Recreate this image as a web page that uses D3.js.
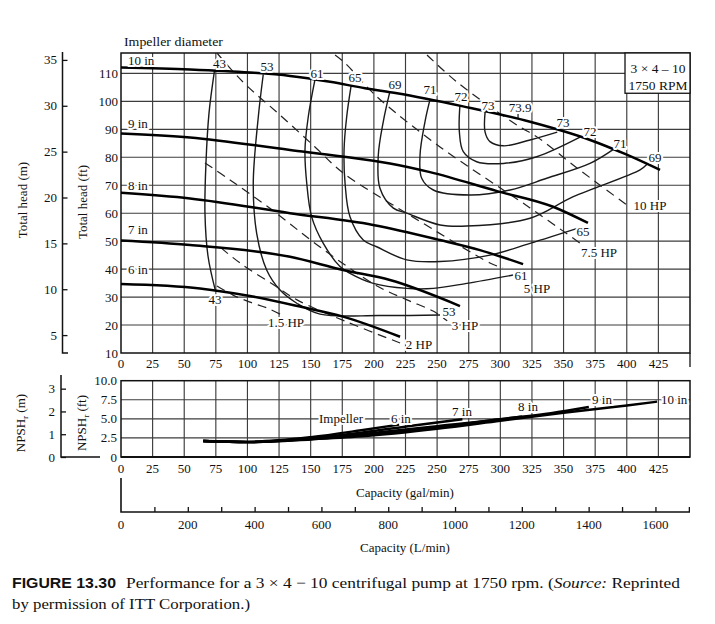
<!DOCTYPE html>
<html><head><meta charset="utf-8">
<script src="https://cdn.jsdelivr.net/npm/d3@7"></script>
<style>
body{margin:0;background:#fff}
svg{display:block}
text{font-family:"Liberation Serif","Times New Roman",serif;fill:#111}
text.sans{font-family:"Liberation Sans Narrow","Liberation Sans",Arial,sans-serif}
.halo{paint-order:stroke;stroke:#fff;stroke-width:4px;stroke-linejoin:round}
</style></head><body>
<svg id="c" width="715" height="624"></svg>
<script>
// ---------- tick labels ----------
const capacityTicks = [0,25,50,75,100,125,150,175,200,225,250,275,300,325,350,375,400,425];
const headFtTicks = [10,20,30,40,50,60,70,80,90,100,110];
const headMTicks = [5,10,15,20,25,30,35];
const npshFtTicks = [0,2.5,5,7.5,10];
const npshFtLabels = ["0","2.5","5.0","7.5","10.0"];
const npshMTicks = [0,1,2,3];
const litreTicks = [0,200,400,600,800,1000,1200,1400,1600];
const litreMinor = [100,200,300,400,500,600,700,800,900,1000,1100,1200,1300,1400,1500,1600,1700];

// ---------- head curves (gpm, ft) ----------
const impellerNames = ["10 in","9 in","8 in","7 in","6 in"];
const head10 = [[0,112.1],[54.6,111.4],[102,110.3],[133.7,109.1],[165.3,107.0],[193,104.7],[218.3,102.9],[270.5,98.2],[323.5,92.7],[371,86.2],[398.6,81.2],[426.3,75.5]];
const head9  = [[0,88.5],[54.6,87.1],[133.7,82.6],[173.2,80.4],[212.7,77.8],[244.4,74.7],[297.4,67.9],[341.7,62.3],[369.3,56.5]];
const head8  = [[0,67.3],[54.6,65.3],[133.7,60.0],[199.3,55.8],[252.3,50.4],[283.9,46.8],[318,41.8]];
const head7  = [[0,50.2],[54.6,48.6],[133.7,44.4],[175.6,39.7],[212.7,36.1],[268.1,26.8]];
const head6  = [[0,34.7],[62.5,33.1],[102,30.4],[141.6,26.6],[175.6,23.0],[220.7,15.8]];
const impellerLabelHeads = [114.8,92.2,70,54.2,40];

// ---------- efficiency contours (gpm, ft) ----------
const eff43 = [[74,111.2],[69.6,95.8],[67.2,78.0],[66.4,60.1],[68.8,44.7],[74.5,32.6]];
const eff53 = [[112.5,109.6],[108.6,94.5],[104.6,70.7],[107.3,52.8],[115.2,39.7],[125.8,32.5],[139,27.8],[157.4,23.9],[204.8,23.4],[252.3,23.6]];
const eff61 = [[153.4,107.8],[148.1,94.5],[145.5,82.6],[146.9,70.7],[150.8,58.7],[160,49.2],[173.2,40.9],[181.1,38.5],[199.5,34.9],[226,33.1],[247,33.1],[273.4,34.9],[310.3,37.9]];
const eff65 = [[182,105.6],[178.5,94.5],[176.4,82.6],[177.2,70.7],[181.1,58.7],[191.6,50.4],[202.2,48.0],[226,43.3],[252.3,42.7],[291.8,45.0],[323.5,49.2],[364,55]];
const eff69 = [[212.5,103.2],[207.4,92.7],[203.5,80.8],[204.8,68.9],[215.4,61.8],[226,60.0],[252.3,55.8],[273.4,55.4],[323.5,58.2],[357.7,65.9],[410.5,75.5],[416,77.5]];
const eff71 = [[244.4,100.7],[240.4,92.7],[236.5,80.8],[237.8,72.5],[247,68.3],[276,66.5],[307.7,68.3],[336.7,72.5],[370.9,77.8],[390,83]];
const eff72 = [[268,98.4],[267.6,89.1],[270.7,82.0],[281.3,78.4],[302.4,77.8],[328.8,80.2],[363,87.2]];
const eff73 = [[288,96.4],[287.9,89.1],[291.8,85.6],[302.4,84.1],[323.5,86.2],[345,89.0]];
const bestPoint = [314, 93.7]; // 73.9 %
const effLabels = [["43",77.9,113.7],["53",115.5,112.6],["61",155,110],["65",185.1,108.4],["69",216.7,105.9],["71",244.4,104.1],["72",268.9,101.6],["73",290.3,98.7],["73.9",315.6,98.0],["73",349.6,92.3],["72",370.9,89.4],["71",394.6,85.1],["69",422.3,80.1],["65",365.4,53.6],["61",316.4,37.9],["53",259.4,24.7],["43",74.3,29.0]];

// ---------- power lines (gpm, ft) ----------
const hp10 = [[242,116.6],[265.7,106.9],[313.2,91.5],[329,87.3],[360.6,76.2],[400.2,62.9]];
const hp75 = [[169.3,116.6],[177.2,113.7],[196.9,104.1],[208.8,99.1],[252.3,83.7],[323.5,61.9],[363,49.3]];
const hp5  = [[75.9,117.3],[96.5,106.9],[125.8,95.1],[153.4,83.7],[175.6,74.4],[212.7,63.6],[230.9,58.6],[291.8,42.2],[302.1,40.4]];
const hp3  = [[66.4,78.0],[86.2,71.9],[119.4,61.2],[157.4,47.9],[202.5,34.0],[226.2,29.0],[246.8,25.0],[258,21.5]];
const hp2  = [[79.1,47.6],[94.1,42.2],[123.4,33.6],[139.2,29.0],[178.7,21.1],[220.7,13.6]];
const hp15 = [[75.9,34.0],[88.6,30.7],[102,28.2],[115.5,26.1],[125.8,23.9]];
const hpLabels = [["10 HP",418.4,62.6],["7.5 HP",378,46.1],["5 HP",329,33.2],["3 HP",272.1,20],["2 HP",235.7,12.9],["1.5 HP",130.5,21.1]];

// ---------- NPSHr curves (gpm, ft) ----------
const npsh10 = [[65,2.1],[100,1.95],[150,2.3],[190,2.7],[250,3.7],[300,4.75],[350,5.8],[400,6.75],[424,7.25]];
const npsh9  = [[65,2.1],[100,1.95],[150,2.35],[190,2.85],[250,3.9],[300,4.95],[340,5.75],[370,6.55]];
const npsh8  = [[65,2.1],[100,1.95],[150,2.4],[190,3.0],[250,4.05],[300,4.95],[317,5.3]];
const npsh7  = [[65,2.1],[100,1.95],[150,2.5],[190,3.2],[230,4.1],[270,4.95]];
const npsh6  = [[65,2.1],[100,2.0],[150,2.6],[190,3.5],[220,4.25]];
const npshLabels = [["Impeller",174,5.0],["6 in",221.4,5.0],["7 in",269.7,6.0],["8 in",321.9,6.6],["9 in",380.4,7.5],["10 in",437.4,7.5]];

// ---------- scales ----------
const svg = d3.select("#c");
const x  = d3.scaleLinear().domain([0,450]).range([121,690]);
const xL = d3.scaleLinear().domain([0,450*3.78541]).range([121,690]);
const yH = d3.scaleLinear().domain([10,117.3]).range([353,53]);
const yHm = d3.scaleLinear().domain([10/3.2808,117.3/3.2808]).range([353,53]);
const yN = d3.scaleLinear().domain([0,10]).range([457,380.7]);
const yNm = d3.scaleLinear().domain([0,3.6]).range([457,375]);

const gridC = "#3d3d3d";

// ---------- upper grid ----------
const g = svg.append("g");
g.selectAll(".vg").data(d3.range(25,450,25)).join("line")
  .attr("x1",d=>x(d)).attr("x2",d=>x(d)).attr("y1",yH(10)).attr("y2",yH(117.3))
  .attr("stroke",gridC).attr("stroke-width",1.15);
g.selectAll(".hg").data(d3.range(20,111,10)).join("line")
  .attr("x1",x(0)).attr("x2",x(450)).attr("y1",d=>yH(d)).attr("y2",d=>yH(d))
  .attr("stroke",gridC).attr("stroke-width",1.15);
g.append("rect").attr("x",x(0)).attr("y",yH(117.3)).attr("width",x(450)-x(0)).attr("height",yH(10)-yH(117.3))
  .attr("fill","none").attr("stroke","#111").attr("stroke-width",1.5);
g.append("line").attr("x1",x(450)).attr("x2",x(450)).attr("y1",yH(10)).attr("y2",367).attr("stroke","#111").attr("stroke-width",1.3);

// ---------- lower grid ----------
g.selectAll(".vg2").data(d3.range(25,450,25)).join("line")
  .attr("x1",d=>x(d)).attr("x2",d=>x(d)).attr("y1",yN(0)).attr("y2",yN(10))
  .attr("stroke",gridC).attr("stroke-width",1.15);
g.selectAll(".hg2").data([2.5,5,7.5]).join("line")
  .attr("x1",x(0)).attr("x2",x(450)).attr("y1",d=>yN(d)).attr("y2",d=>yN(d))
  .attr("stroke",gridC).attr("stroke-width",1.15);
g.append("rect").attr("x",x(0)).attr("y",yN(10)).attr("width",x(450)-x(0)).attr("height",yN(0)-yN(10))
  .attr("fill","none").attr("stroke","#111").attr("stroke-width",1.5);
g.append("line").attr("x1",x(0)).attr("x2",x(450)).attr("y1",yN(0)).attr("y2",yN(0)).attr("stroke","#111").attr("stroke-width",2);

// ---------- lines ----------
const smooth = d3.line().x(d=>x(d[0])).y(d=>yH(d[1])).curve(d3.curveCatmullRom.alpha(0.5));
const mono = d3.line().x(d=>x(d[0])).y(d=>yH(d[1])).curve(d3.curveMonotoneX);
const monoN = d3.line().x(d=>x(d[0])).y(d=>yN(d[1])).curve(d3.curveMonotoneX);

const effCurves = [eff43,eff53,eff61,eff65,eff69,eff71,eff72,eff73];
svg.append("g").selectAll("path").data(effCurves).join("path")
  .attr("d",smooth).attr("fill","none").attr("stroke","#1a1a1a").attr("stroke-width",1.4);
svg.append("line").attr("x1",x(bestPoint[0])).attr("x2",x(bestPoint[0]))
  .attr("y1",yH(bestPoint[1])).attr("y2",yH(bestPoint[1]+2.2)).attr("stroke","#111").attr("stroke-width",1.2);

const hpCurves = [hp10,hp75,hp5,hp3,hp2,hp15];
svg.append("g").selectAll("path").data(hpCurves).join("path")
  .attr("d",smooth).attr("fill","none").attr("stroke","#222").attr("stroke-width",1.2)
  .attr("stroke-dasharray","9,6");

const headCurves = [head10,head9,head8,head7,head6];
svg.append("g").selectAll("path").data(headCurves).join("path")
  .attr("d",mono).attr("fill","none").attr("stroke","#000").attr("stroke-width",2.5);

const npshCurves = [npsh10,npsh9,npsh8,npsh7,npsh6];
svg.append("g").selectAll("path").data(npshCurves).join("path")
  .attr("d",monoN).attr("fill","none").attr("stroke","#000").attr("stroke-width",2.4);

// ---------- box ----------
svg.append("rect").attr("x",x(398.6)).attr("y",yH(117.3)).attr("width",x(450)-x(398.6)).attr("height",yH(102.9)-yH(117.3))
  .attr("fill","#fff").attr("stroke","#111").attr("stroke-width",1.3);
svg.append("text").attr("x",x(424.7)).attr("y",yH(111.8)).attr("dy","0.35em").attr("text-anchor","middle")
  .attr("font-size",13.5).text("3 × 4 – 10");
svg.append("text").attr("x",x(424.7)).attr("y",yH(105.8)).attr("dy","0.35em").attr("text-anchor","middle")
  .attr("font-size",13.5).text("1750 RPM");

// ---------- labels ----------
const lab = svg.append("g").attr("font-size",13);
lab.selectAll(".el").data(effLabels).join("text").attr("class","halo")
  .attr("x",d=>x(d[1])).attr("y",d=>yH(d[2])).attr("dy","0.35em").attr("text-anchor","middle").text(d=>d[0]);
lab.selectAll(".hl").data(hpLabels).join("text").attr("class","halo")
  .attr("x",d=>x(d[1])).attr("y",d=>yH(d[2])).attr("dy","0.35em").attr("text-anchor","middle").text(d=>d[0]);
lab.selectAll(".il").data(impellerNames).join("text").attr("class","halo")
  .attr("x",x(5.5)).attr("y",(d,i)=>yH(impellerLabelHeads[i])).attr("dy","0.35em").text(d=>d);
lab.selectAll(".nl").data(npshLabels).join("text").attr("class","halo")
  .attr("x",d=>x(d[1])).attr("y",d=>yN(d[2])).attr("dy","0.35em").attr("text-anchor","middle").text(d=>d[0]);

svg.append("text").attr("x",124).attr("y",46).attr("font-size",13).attr("textLength",99).attr("lengthAdjust","spacingAndGlyphs").text("Impeller diameter");

// ---------- axes ----------
const tick = svg.append("g").attr("font-size",13);
tick.selectAll(".hf").data(headFtTicks).join("text").attr("x",118).attr("y",d=>yH(d)).attr("dy","0.35em")
  .attr("text-anchor","end").text(d=>d);
const mAx = svg.append("g").attr("transform","translate(62.5,0)")
  .call(d3.axisRight(yHm).tickValues(headMTicks).tickSize(5).tickFormat(""));
mAx.select(".domain").remove();
mAx.selectAll("line").attr("stroke","#111").attr("stroke-width",1.3);
svg.append("path").attr("d",`M62.5,52V${yH(10)}H68`).attr("fill","none").attr("stroke","#111").attr("stroke-width",1.5);
tick.selectAll(".hm").data(headMTicks).join("text").attr("x",57).attr("y",d=>yHm(d)).attr("dy","0.35em")
  .attr("text-anchor","end").text(d=>d);
tick.selectAll(".cu").data(capacityTicks).join("text").attr("x",d=>x(d)).attr("y",363).attr("dy","0.35em")
  .attr("text-anchor","middle").text(d=>d);
tick.selectAll(".cl").data(capacityTicks).join("text").attr("x",d=>x(d)).attr("y",468).attr("dy","0.35em")
  .attr("text-anchor","middle").text(d=>d);
tick.selectAll(".nf").data(npshFtTicks).join("text").attr("x",117).attr("y",d=>yN(d)).attr("dy","0.35em")
  .attr("text-anchor","end").text((d,i)=>npshFtLabels[i]);
const nmAx = svg.append("g").attr("transform","translate(61,0)")
  .call(d3.axisRight(yNm).tickValues(npshMTicks).tickSize(5).tickFormat(""));
nmAx.select(".domain").remove();
nmAx.selectAll("line").attr("stroke","#111").attr("stroke-width",1.3);
svg.append("path").attr("d",`M61,375V${yN(0)}H100`).attr("fill","none").attr("stroke","#111").attr("stroke-width",1.5);
tick.selectAll(".nm").data(npshMTicks).join("text").attr("x",55).attr("y",d=>yNm(d)).attr("dy","0.35em")
  .attr("text-anchor","end").text(d=>d);
const lAx = svg.append("g").attr("transform","translate(0,512)")
  .call(d3.axisBottom(xL).tickValues(litreMinor).tickSize(-5).tickFormat(""));
lAx.select(".domain").remove();
lAx.selectAll("line").attr("stroke","#111").attr("stroke-width",1.3);
svg.append("path").attr("d",`M${xL(0)},478V512H${x(450)}`).attr("fill","none").attr("stroke","#111").attr("stroke-width",1.6);
tick.selectAll(".ll").data(litreTicks).join("text").attr("x",d=>xL(d)).attr("y",524).attr("dy","0.35em")
  .attr("text-anchor","middle").text(d=>d);

// ---------- axis titles ----------
const at = svg.append("g").attr("font-size",13);
at.append("text").attr("transform","translate(27,200) rotate(-90)").attr("text-anchor","middle").text("Total head (m)");
at.append("text").attr("transform","translate(87,202) rotate(-90)").attr("text-anchor","middle").text("Total head (ft)");
const n1 = at.append("text").attr("transform","translate(25,423) rotate(-90)").attr("text-anchor","middle");
n1.append("tspan").text("NPSH"); n1.append("tspan").attr("font-size",9).attr("dy",3).text("r"); n1.append("tspan").attr("dy",-3).text(" (m)");
const n2 = at.append("text").attr("transform","translate(86,423) rotate(-90)").attr("text-anchor","middle");
n2.append("tspan").text("NPSH"); n2.append("tspan").attr("font-size",9).attr("dy",3).text("r"); n2.append("tspan").attr("dy",-3).text(" (ft)");
at.append("text").attr("x",405).attr("y",492).attr("dy","0.35em").attr("text-anchor","middle").text("Capacity (gal/min)");
at.append("text").attr("x",405).attr("y",547).attr("dy","0.35em").attr("text-anchor","middle").text("Capacity (L/min)");

// ---------- caption ----------
svg.append("text").attr("class","sans").attr("x",12).attr("y",588)
  .attr("font-weight","bold").attr("font-size",14).attr("textLength",104).attr("lengthAdjust","spacingAndGlyphs").text("FIGURE 13.30");
const c1 = svg.append("text").attr("x",126).attr("y",588).attr("font-size",15).attr("textLength",554).attr("lengthAdjust","spacingAndGlyphs");
c1.append("tspan").text("Performance for a 3 × 4 − 10 centrifugal pump at 1750 rpm. (");
c1.append("tspan").attr("font-style","italic").text("Source:");
c1.append("tspan").text(" Reprinted");
svg.append("text").attr("x",12).attr("y",609).attr("font-size",15).attr("textLength",238).attr("lengthAdjust","spacingAndGlyphs").text("by permission of ITT Corporation.)");
</script>
</body></html>
